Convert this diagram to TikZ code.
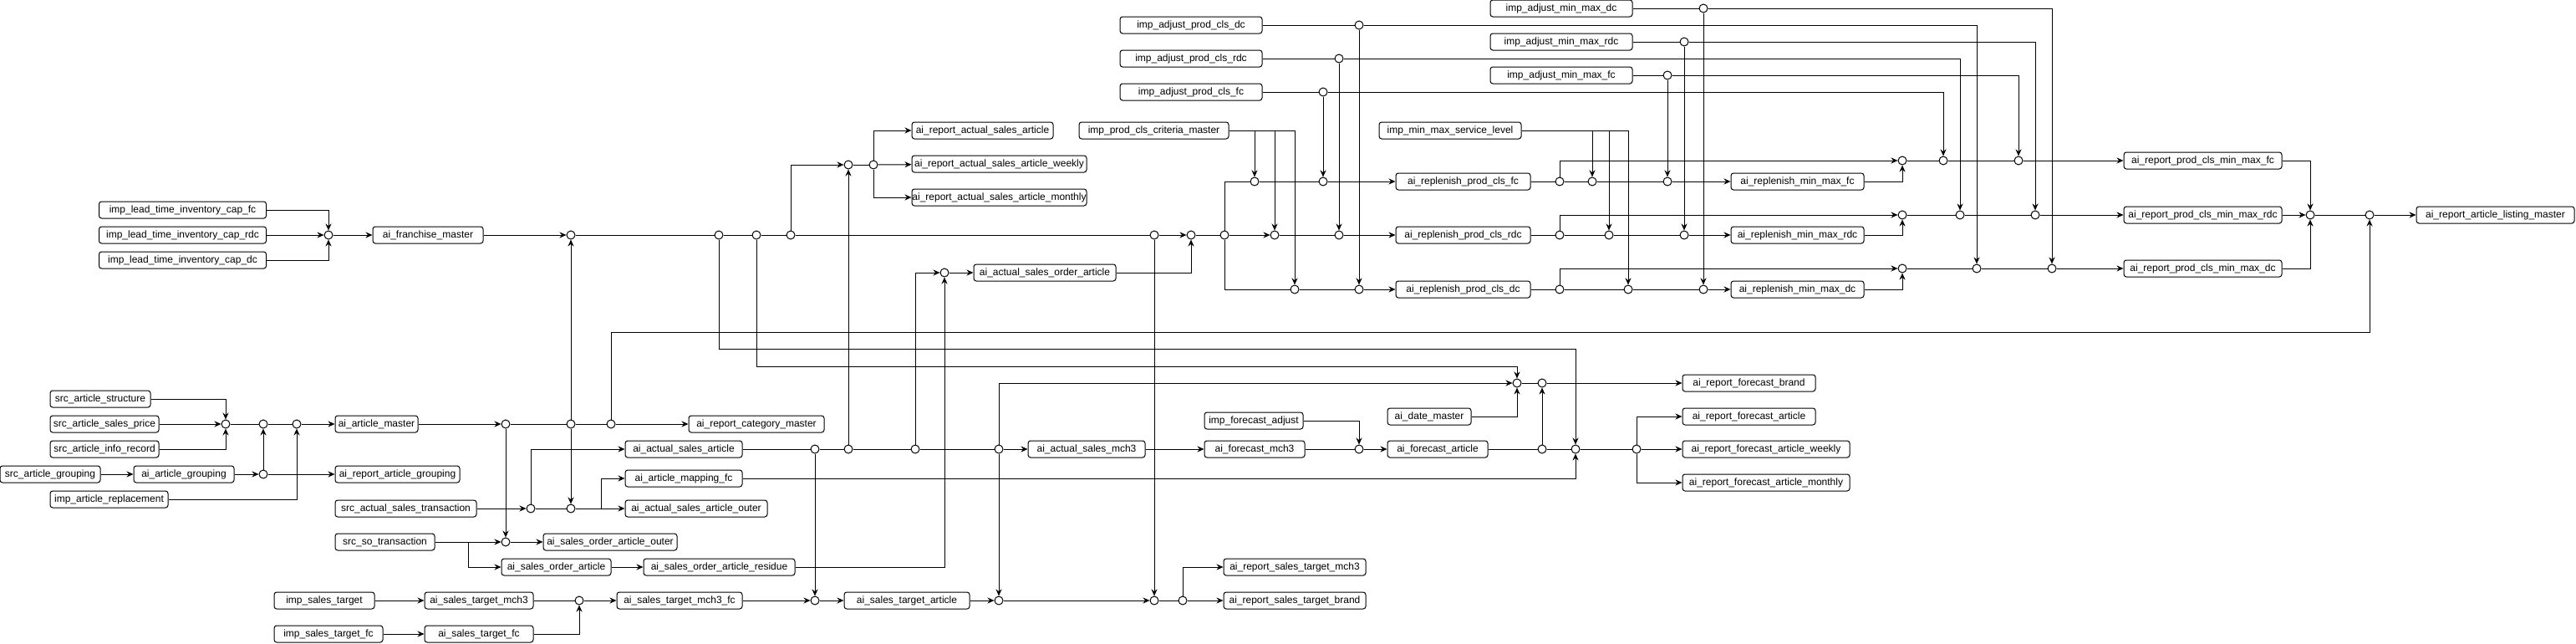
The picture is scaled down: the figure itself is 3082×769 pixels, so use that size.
\documentclass[tikz,border=0pt]{standalone}
\usepackage{fontspec}
\setmainfont{Liberation Sans}
\usetikzlibrary{arrows.meta}

\begin{document}
\begin{tikzpicture}[x=1pt, y=-1pt, line width=1pt, >={Stealth[length=8pt,width=7pt]}]
\tikzstyle{tbl}=[draw, rounded corners=3pt, minimum height=20pt, inner sep=0pt, font=\fontsize{12}{14}\selectfont]
\tikzstyle{jn}=[draw, circle, fill=white, minimum size=10pt, inner sep=0pt]
\useasboundingbox (0,0) rectangle (3082,769);

% tables on the left
\path (218.5,251) node[tbl, minimum width=200pt] (lfc) {imp\_lead\_time\_inventory\_cap\_fc};
\path (218.5,281) node[tbl, minimum width=200pt] (lrdc) {imp\_lead\_time\_inventory\_cap\_rdc};
\path (218.5,311) node[tbl, minimum width=200pt] (ldc) {imp\_lead\_time\_inventory\_cap\_dc};
\path (512,281) node[tbl, minimum width=132pt] (fra) {ai\_franchise\_master};
\path (120,477) node[tbl, minimum width=120pt] (sas) {src\_article\_structure};
\path (125,507) node[tbl, minimum width=130pt] (ssp) {src\_article\_sales\_price};
\path (125,537) node[tbl, minimum width=130pt] (sir) {src\_article\_info\_record};
\path (60,567) node[tbl, minimum width=120pt] (sag) {src\_article\_grouping};
\path (220,567) node[tbl, minimum width=120pt] (aag) {ai\_article\_grouping};
\path (130.5,597) node[tbl, minimum width=141pt] (iar) {imp\_article\_replacement};
\path (450.5,507) node[tbl, minimum width=99pt] (aam) {ai\_article\_master};
\path (475.5,567) node[tbl, minimum width=149pt] (rag) {ai\_report\_article\_grouping};
\path (485.5,608) node[tbl, minimum width=169pt] (sast) {src\_actual\_sales\_transaction};
\path (460.5,648) node[tbl, minimum width=119pt] (sso) {src\_so\_transaction};
\path (665.5,678) node[tbl, minimum width=131pt] (soa) {ai\_sales\_order\_article};
\path (388,718) node[tbl, minimum width=120pt] (ist) {imp\_sales\_target};
\path (393,758) node[tbl, minimum width=130pt] (istf) {imp\_sales\_target\_fc};
\path (573,718) node[tbl, minimum width=130pt] (astm) {ai\_sales\_target\_mch3};
\path (573,758) node[tbl, minimum width=130pt] (astf) {ai\_sales\_target\_fc};
\path (813,718) node[tbl, minimum width=150pt] (astmf) {ai\_sales\_target\_mch3\_fc};
\path (818,537) node[tbl, minimum width=140pt] (aasa) {ai\_actual\_sales\_article};
\path (818,572) node[tbl, minimum width=140pt] (amap) {ai\_article\_mapping\_fc};
\path (833,608) node[tbl, minimum width=170pt] (aouter) {ai\_actual\_sales\_article\_outer};
\path (730,648) node[tbl, minimum width=160pt] (soouter) {ai\_sales\_order\_article\_outer};
\path (860.5,678) node[tbl, minimum width=181pt] (sores) {ai\_sales\_order\_article\_residue};
\path (905,507) node[tbl, minimum width=162pt] (rcm) {ai\_report\_category\_master};
\path (1085,718) node[tbl, minimum width=150pt] (asta) {ai\_sales\_target\_article};
\path (1300,537) node[tbl, minimum width=140pt] (asm) {ai\_actual\_sales\_mch3};
\path (1501,537) node[tbl, minimum width=120pt] (afm) {ai\_forecast\_mch3};
\path (1549,678) node[tbl, minimum width=170pt] (rstm) {ai\_report\_sales\_target\_mch3};
\path (1549,718) node[tbl, minimum width=170pt] (rstb) {ai\_report\_sales\_target\_brand};
\path (1250,326) node[tbl, minimum width=170pt] (asoa) {ai\_actual\_sales\_order\_article};
\path (1175.5,156) node[tbl, minimum width=169pt] (rasa) {ai\_report\_actual\_sales\_article};
\path (1195.5,196) node[tbl, minimum width=209pt] (rasw) {ai\_report\_actual\_sales\_article\_weekly};
\path (1195.5,236) node[tbl, minimum width=209pt] (rasm) {ai\_report\_actual\_sales\_article\_monthly};

% tables on the right
\path (1425,30) node[tbl, minimum width=170pt] (ipd) {imp\_adjust\_prod\_cls\_dc};
\path (1425,70) node[tbl, minimum width=170pt] (ipr) {imp\_adjust\_prod\_cls\_rdc};
\path (1425,110) node[tbl, minimum width=170pt] (ipf) {imp\_adjust\_prod\_cls\_fc};
\path (1380.5,156) node[tbl, minimum width=179pt] (icm) {imp\_prod\_cls\_criteria\_master};
\path (1868,10) node[tbl, minimum width=170pt] (ixd) {imp\_adjust\_min\_max\_dc};
\path (1868,50) node[tbl, minimum width=170pt] (ixr) {imp\_adjust\_min\_max\_rdc};
\path (1868,90) node[tbl, minimum width=170pt] (ixf) {imp\_adjust\_min\_max\_fc};
\path (1735,156) node[tbl, minimum width=170pt] (isl) {imp\_min\_max\_service\_level};
\path (1750.5,217) node[tbl, minimum width=161pt] (rpf) {ai\_replenish\_prod\_cls\_fc};
\path (1750.5,281) node[tbl, minimum width=161pt] (rpr) {ai\_replenish\_prod\_cls\_rdc};
\path (1750.5,346) node[tbl, minimum width=161pt] (rpd) {ai\_replenish\_prod\_cls\_dc};
\path (2150.5,217) node[tbl, minimum width=159pt] (rmf) {ai\_replenish\_min\_max\_fc};
\path (2150.5,281) node[tbl, minimum width=159pt] (rmr) {ai\_replenish\_min\_max\_rdc};
\path (2150.5,346) node[tbl, minimum width=159pt] (rmd) {ai\_replenish\_min\_max\_dc};
\path (2635.5,192) node[tbl, minimum width=189pt] (rrf) {ai\_report\_prod\_cls\_min\_max\_fc};
\path (2635.5,257) node[tbl, minimum width=189pt] (rrr) {ai\_report\_prod\_cls\_min\_max\_rdc};
\path (2635.5,321) node[tbl, minimum width=189pt] (rrd) {ai\_report\_prod\_cls\_min\_max\_dc};
\path (2985.5,257) node[tbl, minimum width=189pt] (ralm) {ai\_report\_article\_listing\_master};
\path (1500,503) node[tbl, minimum width=118pt] (ifa) {imp\_forecast\_adjust};
\path (1720,537) node[tbl, minimum width=120pt] (afa) {ai\_forecast\_article};
\path (1710,498) node[tbl, minimum width=100pt] (adm) {ai\_date\_master};
\path (2092.5,458) node[tbl, minimum width=159pt] (rfb) {ai\_report\_forecast\_brand};
\path (2092.5,498) node[tbl, minimum width=159pt] (rfa) {ai\_report\_forecast\_article};
\path (2113,537) node[tbl, minimum width=200pt] (rfaw) {ai\_report\_forecast\_article\_weekly};
\path (2113,577) node[tbl, minimum width=200pt] (rfam) {ai\_report\_forecast\_article\_monthly};

% junctions
\foreach \n/\x/\y in {jlt/393/281, jfr/683/281, jm1/860/281, jm2/905/281, jm3/946/281,
  jm4/1381/281, jm5/1425/281, jm6/1465/281, jm7/1525/281, jr1/1602/281, jr2/1866/281,
  jr3/1925/281, jr4/2015/281, jf0/1501/217, jf1/1583/217, jf2/1866/217, jf3/1905/217,
  jf4/1995/217, jd0/1549/346, jd1/1626/346, jd2/1866/346, jd3/1948/346, jd4/2038/346,
  jmf/2276/192, jmr/2276/257, jmd/2276/321, jrf1/2325/192, jrf2/2415/192,
  jrr1/2345/257, jrr2/2435/257, jrd1/2365/321, jrd2/2455/321, jlm1/2764/257,
  jlm2/2835/257, jpd/1626/30, jpr/1602/70, jpf/1583/110, jxd/2038/10, jxr/2015/50,
  jxf/1995/90, jra1/1015/197, jra2/1045/197, jaso/1130/326, ja1/270/507, ja2/315/507,
  ja3/355/507, ja4/605/507, ja5/683/507, ja6/731/507, jg/315/567, jt1/635/608,
  jt2/683/608, jso/605/648, jst/693/718, jb1/975/537, jb2/1015/537, jb3/1095/537,
  jb4/1195/537, jc1/975/718, jc2/1195/718, jc3/1381/718, jc4/1415/718, je1/1626/537,
  je2/1845/537, je3/1885/537, je4/1958/537, jh1/1815/458, jh2/1845/458}
{
\path (\x,\y) node[jn] (\n) {};
}
\coordinate (b719) at (719,608);
\coordinate (b560) at (560,648);
\coordinate (lv397) at (0,397);
\coordinate (lv417) at (0,417);
\coordinate (lv438) at (0,438);

% franchise and main row
\draw[->] (lfc) -| (jlt);
\draw[->] (lrdc) -- (jlt);
\draw[->] (ldc) -| (jlt);
\draw[->] (jlt) -- (fra);
\draw[->] (fra) -- (jfr);
\draw (jfr) -- (jm1) -- (jm2) -- (jm3) -- (jm4);
\draw[->] (jm4) -- (jm5);
\draw (jm5) -- (jm6);
\draw[->] (jm6) -- (jm7);
\draw (jm7) -- (jr1);
\draw[->] (jr1) -- (rpr);
\draw (jm6) |- (jf0);
\draw (jf0) -- (jf1);
\draw[->] (jf1) -- (rpf);
\draw (jm6) |- (jd0);
\draw (jd0) -- (jd1);
\draw[->] (jd1) -- (rpd);

% replenish rows
\draw (rpf) -- (jf2) -- (jf3) -- (jf4);
\draw[->] (jf4) -- (rmf);
\draw[->] (rmf) -| (jmf);
\draw[->] (jf2) |- (jmf);
\draw (rpr) -- (jr2) -- (jr3) -- (jr4);
\draw[->] (jr4) -- (rmr);
\draw[->] (rmr) -| (jmr);
\draw[->] (jr2) |- (jmr);
\draw (rpd) -- (jd2) -- (jd3) -- (jd4);
\draw[->] (jd4) -- (rmd);
\draw[->] (rmd) -| (jmd);
\draw[->] (jd2) |- (jmd);

% reports min max
\draw (jmf) -- (jrf1) -- (jrf2);
\draw[->] (jrf2) -- (rrf);
\draw (jmr) -- (jrr1) -- (jrr2);
\draw[->] (jrr2) -- (rrr);
\draw (jmd) -- (jrd1) -- (jrd2);
\draw[->] (jrd2) -- (rrd);
\draw[->] (rrf) -| (jlm1);
\draw[->] (rrr) -- (jlm1);
\draw[->] (rrd) -| (jlm1);
\draw (jlm1) -- (jlm2);
\draw[->] (jlm2) -- (ralm);

% adjust inputs
\draw (ipd) -- (jpd);
\draw[->] (jpd) -| (jrd1);
\draw[->] (jpd) -- (jd1);
\draw (ipr) -- (jpr);
\draw[->] (jpr) -| (jrr1);
\draw[->] (jpr) -- (jr1);
\draw (ipf) -- (jpf);
\draw[->] (jpf) -| (jrf1);
\draw[->] (jpf) -- (jf1);
\draw (ixd) -- (jxd);
\draw[->] (jxd) -| (jrd2);
\draw[->] (jxd) -- (jd4);
\draw (ixr) -- (jxr);
\draw[->] (jxr) -| (jrr2);
\draw[->] (jxr) -- (jr4);
\draw (ixf) -- (jxf);
\draw[->] (jxf) -| (jrf2);
\draw[->] (jxf) -- (jf4);
\draw[->] (icm) -| (jd0);
\draw[->] (icm.east -| jf0) -- (jf0);
\draw[->] (icm.east -| jm7) -- (jm7);
\draw[->] (isl) -| (jd3);
\draw[->] (isl.east -| jf3) -- (jf3);
\draw[->] (isl.east -| jr3) -- (jr3);

% actual sales reports
\draw[->] (jm3) |- (jra1);
\draw[->] (jb2) -- (jra1);
\draw (jra1) -- (jra2);
\draw[->] (jra2) -- (rasw);
\draw[->] (jra2) |- (rasa);
\draw[->] (jra2) |- (rasm);
\draw[->] (jb3) |- (jaso);
\draw[->] (sores) -| (jaso);
\draw[->] (jaso) -- (asoa);
\draw[->] (asoa) -| (jm5);

% article master
\draw[->] (sas) -| (ja1);
\draw[->] (ssp) -- (ja1);
\draw[->] (sir) -| (ja1);
\draw (ja1) -- (ja2) -- (ja3);
\draw[->] (ja3) -- (aam);
\draw[->] (aam) -- (ja4);
\draw (ja4) -- (ja5) -- (ja6);
\draw[->] (ja6) -- (rcm);
\draw[->] (sag) -- (aag);
\draw[->] (aag) -- (jg);
\draw[->] (jg) -- (ja2);
\draw[->] (jg) -- (rag);
\draw[->] (iar) -| (ja3);
\draw[->] (ja5) -- (jfr);
\draw[->] (ja5) -- (jt2);
\draw[->] (ja4) -- (jso);
\draw[->] (ja6) -- (ja6 |- lv397) -| (jlm2);

% transactions
\draw[->] (sast) -- (jt1);
\draw[->] (jt1) |- (aasa);
\draw (jt1) -- (jt2);
\draw[->] (jt2) -- (aouter);
\draw[->] (b719) |- (amap);
\draw[->] (sso) -- (jso);
\draw[->] (b560) |- (soa);
\draw[->] (jso) -- (soouter);
\draw[->] (soa) -- (sores);

% sales target
\draw[->] (ist) -- (astm);
\draw (astm) -- (jst);
\draw[->] (istf) -- (astf);
\draw[->] (astf) -| (jst);
\draw[->] (jst) -- (astmf);
\draw[->] (astmf) -- (jc1);
\draw[->] (jc1) -- (asta);
\draw[->] (asta) -- (jc2);
\draw[->] (jc2) -- (jc3);
\draw (jc3) -- (jc4);
\draw[->] (jc4) -- (rstb);
\draw[->] (jc4) |- (rstm);

% forecast
\draw (aasa) -- (jb1) -- (jb2) -- (jb3) -- (jb4);
\draw[->] (jb4) -- (asm);
\draw[->] (asm) -- (afm);
\draw (afm) -- (je1);
\draw[->] (je1) -- (afa);
\draw (afa) -- (je2) -- (je3) -- (je4);
\draw[->] (je4) -- (rfaw);
\draw[->] (je4) |- (rfa);
\draw[->] (je4) |- (rfam);
\draw[->] (jb1) -- (jc1);
\draw[->] (jb4) -- (jc2);
\draw[->] (jb4) |- (jh1);
\draw[->] (jm4) -- (jc3);
\draw[->] (ifa) -| (je1);
\draw[->] (amap) -| (je3);
\draw[->] (jm1) -- (jm1 |- lv417) -| (je3);
\draw[->] (jm2) -- (jm2 |- lv438) -| (jh1);
\draw[->] (adm) -| (jh1);
\draw (jh1) -- (jh2);
\draw[->] (je2) -- (jh2);
\draw[->] (jh2) -- (rfb);
\end{tikzpicture}
\end{document}
